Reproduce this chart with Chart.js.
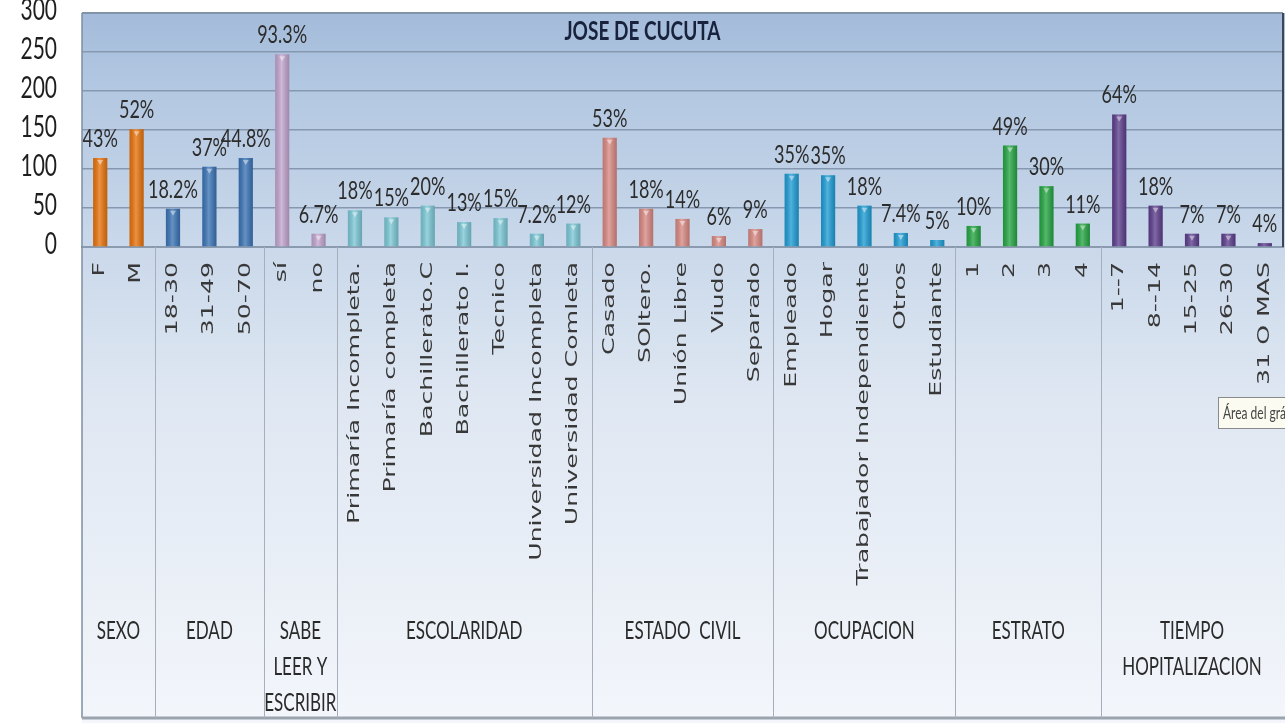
<!DOCTYPE html>
<html>
<head>
<meta charset="utf-8">
<script src="https://cdn.jsdelivr.net/npm/chart.js@4.4.1/dist/chart.umd.min.js"></script>
<style>
html, body { margin: 0; padding: 0; background: #fff; overflow: hidden; }
canvas { display: block; }
</style>
</head>
<body>
<canvas id="chart" width="1285" height="723"></canvas>
<script>
// categories, grouped below by groupSizes
let categories = ["F", "M",
    "18-30", "31-49", "50-70",
    "sí", "no",
    "Primaría Incompleta.", "Primaría completa", "Bachillerato.C", "Bachillerato I.",
    "Tecnico", "Universidad Incompleta", "Universidad Comleta",
    "Casado", "SOltero.", "Unión Libre", "Viudo", "Separado",
    "Empleado", "Hogar", "Trabajador Independiente", "Otros", "Estudiante",
    "1", "2", "3", "4",
    "1--7", "8--14", "15-25", "26-30", "31 O MAS"];

let values = [114, 151,
    49, 103, 114,
    247, 17,
    47, 38, 53, 32, 37, 17, 30,
    140, 49, 36, 14, 23,
    94, 92, 53, 18, 9,
    27, 130, 78, 30,
    170, 53, 17, 17, 5];

let pctLabels = ["43%", "52%",
    "18.2%", "37%", "44.8%",
    "93.3%", "6.7%",
    "18%", "15%", "20%", "13%", "15%", "7.2%", "12%",
    "53%", "18%", "14%", "6%", "9%",
    "35%", "35%", "18%", "7.4%", "5%",
    "10%", "49%", "30%", "11%",
    "64%", "18%", "7%", "7%", "4%"];

let groupNames = [["SEXO"], ["EDAD"], ["SABE", "LEER Y", "ESCRIBIR"], ["ESCOLARIDAD"],
    ["ESTADO  CIVIL"], ["OCUPACION"], ["ESTRATO"], ["TIEMPO", "HOPITALIZACION"]];
let groupSizes = [2, 3, 2, 7, 5, 5, 4, 5];
let groupColors = ["#e8730c", "#3b74b6", "#c2a5cf", "#7cc8d7", "#d98983", "#1f9dd5", "#25a643", "#5d3e8d"];

let yTicks = [0, 50, 100, 150, 200, 250, 300];
let title = "JOSE DE CUCUTA";

let barColors = [];
groupSizes.forEach((n, g) => { for (let i = 0; i < n; i++) barColors.push(groupColors[g]); });

// draws text stretched like the reference (the original picture is squeezed sideways)
function drawText(ctx, s, x, y, font, color, sx, sy, align, rot) {
    ctx.save();
    ctx.translate(x, y);
    if (rot) ctx.rotate(rot);
    ctx.scale(sx, sy);
    ctx.font = font;
    ctx.fillStyle = color;
    ctx.textAlign = align || "center";
    ctx.textBaseline = "middle";
    ctx.fillText(s, 0, 0);
    ctx.restore();
}

let decor = {
    id: "decor",
    beforeDraw(chart) {
        let ctx = chart.ctx, a = chart.chartArea;
        let W = chart.width, H = chart.height;
        ctx.save();
        ctx.fillStyle = "#ffffff";
        ctx.fillRect(0, 0, W, H);
        let g = ctx.createLinearGradient(0, a.top, 0, H);
        g.addColorStop(0, "#a3bbda");
        g.addColorStop(0.1, "#b2c7e1");
        g.addColorStop(0.45, "#d6e1ef");
        g.addColorStop(0.55, "#dfe7f2");
        g.addColorStop(1, "#f3f6fb");
        ctx.fillStyle = g;
        ctx.fillRect(a.left, a.top, W - a.left, H - a.top);
        ctx.restore();
    },
    afterDatasetsDraw(chart) {
        let ctx = chart.ctx;
        let meta = chart.getDatasetMeta(0);
        ctx.save();
        meta.data.forEach((bar, i) => {
            let w = bar.width, l = bar.x - w / 2;
            let g = ctx.createLinearGradient(l, 0, l + w, 0);
            g.addColorStop(0, "rgba(0,0,0,0.12)");
            g.addColorStop(0.45, "rgba(255,255,255,0.22)");
            g.addColorStop(1, "rgba(0,0,0,0.18)");
            ctx.fillStyle = g;
            ctx.fillRect(l, bar.y, w, bar.base - bar.y);
            if (bar.base - bar.y > 8) {
                ctx.fillStyle = "rgba(255,255,255,0.45)";
                ctx.beginPath();
                ctx.moveTo(bar.x - 3, bar.y + 2);
                ctx.lineTo(bar.x + 3, bar.y + 2);
                ctx.lineTo(bar.x, bar.y + 7);
                ctx.closePath();
                ctx.fill();
            }
            drawText(ctx, pctLabels[i], bar.x, bar.y - 19, "18px Lato", "#2c2c2c", 1, 1.38, "center");
        });
        ctx.restore();
    },
    afterDraw(chart) {
        let ctx = chart.ctx, a = chart.chartArea;
        let x = chart.scales.x, y = chart.scales.y;
        let W = chart.width, H = chart.height;
        ctx.save();

        // y tick labels
        yTicks.forEach(v => {
            drawText(ctx, String(v), 57, y.getPixelForValue(v) - 3, "21px Lato", "#1e1e1e", 1, 1.5, "right");
        });

        // frame lines
        ctx.strokeStyle = "#7f8ea3";
        ctx.lineWidth = 1.5;
        ctx.beginPath();
        ctx.moveTo(a.left, a.top);
        ctx.lineTo(a.left, H - 5);
        ctx.moveTo(a.left, a.top);
        ctx.lineTo(a.right, a.top);
        ctx.stroke();
        ctx.strokeStyle = "#3c4656";
        ctx.lineWidth = 2;
        ctx.beginPath();
        ctx.moveTo(a.right, a.top);
        ctx.lineTo(a.right, a.bottom);
        ctx.stroke();
        ctx.strokeStyle = "#9aa3ae";
        ctx.lineWidth = 3;
        ctx.beginPath();
        ctx.moveTo(a.left, H - 5);
        ctx.lineTo(W, H - 5);
        ctx.stroke();

        // title
        drawText(ctx, title, W / 2, 31, "bold 19px Lato", "#18223c", 1, 1.45, "center");

        // category labels, rotated
        categories.forEach((c, i) => {
            drawText(ctx, c, x.getPixelForValue(i), a.bottom + 15, "15px 'DejaVu Sans'", "#383838", 1.68, 1, "right", -Math.PI / 2);
        });

        // group separators and names
        let start = 0;
        groupSizes.forEach((n, gi) => {
            let half = (x.getPixelForValue(1) - x.getPixelForValue(0)) / 2;
            let x0 = x.getPixelForValue(start) - half;
            let x1 = x.getPixelForValue(start + n - 1) + half;
            if (gi > 0) {
                ctx.strokeStyle = "#a6afbb";
                ctx.lineWidth = 1;
                ctx.beginPath();
                ctx.moveTo(Math.round(x0) + 0.5, a.bottom);
                ctx.lineTo(Math.round(x0) + 0.5, H - 5);
                ctx.stroke();
            }
            groupNames[gi].forEach((line, li) => {
                drawText(ctx, line, (x0 + x1) / 2, 631 + li * 36, "17px Lato", "#2a2a2a", 1, 1.45, "center");
            });
            start += n;
        });

        // leftover Excel tooltip from the screenshot
        ctx.fillStyle = "#fbfbf2";
        ctx.fillRect(1218, 397, 80, 31);
        ctx.strokeStyle = "#8a8a8a";
        ctx.lineWidth = 1;
        ctx.strokeRect(1218.5, 397.5, 80, 31);
        drawText(ctx, "Área del gráfico", 1223, 413, "12px Lato", "#444", 1, 1.45, "left");
        ctx.restore();
    }
};

new Chart(document.getElementById("chart"), {
    type: "bar",
    data: {
        labels: categories,
        datasets: [{
            data: values,
            backgroundColor: barColors,
            borderColor: barColors,
            borderWidth: 0,
            barPercentage: 0.39,
            categoryPercentage: 1
        }]
    },
    options: {
        responsive: false,
        animation: false,
        layout: { padding: { top: 13, right: 2, left: 0, bottom: 0 } },
        plugins: {
            legend: { display: false },
            tooltip: { enabled: false },
            title: { display: false }
        },
        scales: {
            x: {
                grid: { display: false },
                border: { display: true, color: "#8a9bb0", width: 2 },
                ticks: { display: false },
                afterFit(scale) { scale.height = 476; }
            },
            y: {
                min: 0,
                max: 300,
                ticks: { display: false, stepSize: 50 },
                grid: { color: "#8598b0", lineWidth: 1.5, drawTicks: false },
                border: { display: false },
                afterFit(scale) { scale.width = 82; }
            }
        }
    },
    plugins: [decor]
});
</script>
</body>
</html>
